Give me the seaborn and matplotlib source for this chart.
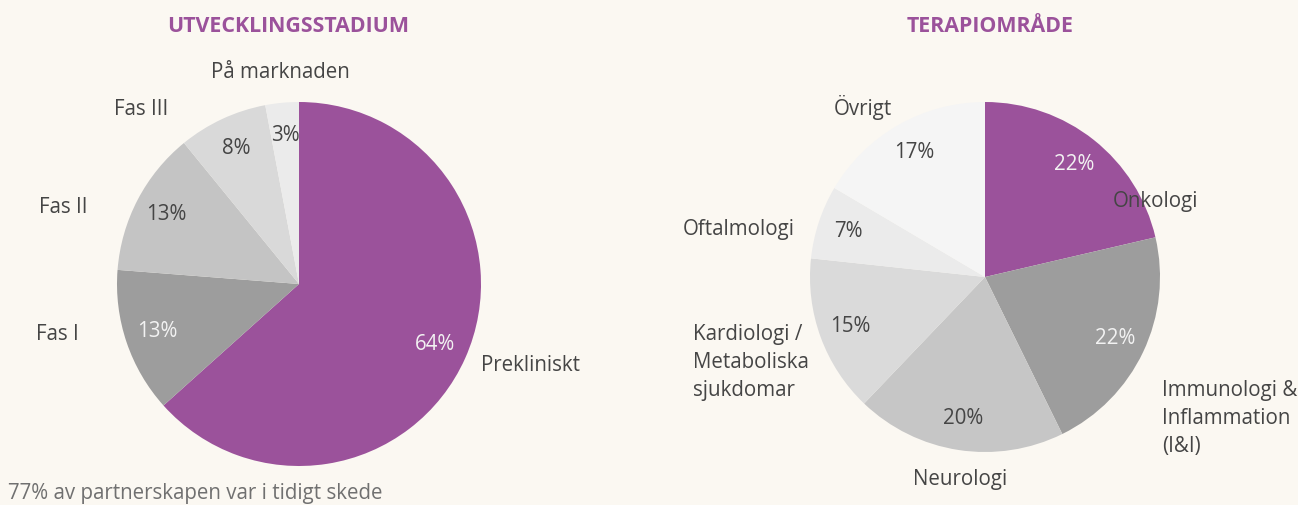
import numpy as np
import seaborn as sns
import matplotlib.pyplot as plt

# data
stage_labels = ['Prekliniskt', 'Fas I', 'Fas II', 'Fas III', 'På marknaden']
stage_values = [64, 13, 13, 8, 3]

area_labels = ['Onkologi', 'Immunologi &\nInflammation\n(I&I)', 'Neurologi',
               'Kardiologi /\nMetaboliska\nsjukdomar', 'Oftalmologi', 'Övrigt']
area_values = [22, 22, 20, 15, 7, 17]

footnote = '77% av partnerskapen var i tidigt skede'

# styling / layout
bg = '#FBF8F2'
purple = '#9B529B'
stage_colors = [purple, '#9D9D9D', '#C4C4C4', '#D9D9D9', '#EBEBEB']
area_colors = [purple, '#9D9D9D', '#C6C6C6', '#DADADA', '#EBEBEB', '#F5F5F5']
stage_pct_colors = ['#F2F2F2', '#F2F2F2', '#454545', '#454545', '#454545']
area_pct_colors = ['#F2F2F2', '#F2F2F2', '#454545', '#454545', '#454545', '#454545']

# label anchor (in pie radius units) and alignment
stage_label_pos = [(1.00, -0.45, 'left'), (-1.21, -0.28, 'right'), (-1.16, 0.42, 'right'),
                   (-0.72, 0.96, 'right'), (-0.10, 1.16, 'center')]
area_label_pos = [(0.73, 0.43, 'left'), (1.01, -0.81, 'left'), (-0.14, -1.16, 'center'),
                  (-1.67, -0.49, 'left'), (-1.09, 0.27, 'right'), (-0.70, 0.97, 'center')]

sns.set_theme(style='white')
plt.rcParams['font.family'] = ['Open Sans', 'DejaVu Sans']
plt.rcParams['font.weight'] = 'normal'

W, H = 1298, 505
fig = plt.figure(figsize=(W / 100, H / 100), dpi=100)
fig.patch.set_facecolor(bg)


def draw_pie(cx, cy, r, values, labels, colors, pct_colors, label_pos):
    ax = fig.add_axes([(cx - r) / W, 1 - (cy + r) / H, 2 * r / W, 2 * r / H])
    ax.set_facecolor(bg)
    wedges, _ = ax.pie(values, colors=colors, startangle=90, counterclock=False,
                       wedgeprops=dict(linewidth=0))
    ax.set_xlim(-1, 1)
    ax.set_ylim(-1, 1)
    ax.axis('off')
    for w, v, c in zip(wedges, values, pct_colors):
        mid = np.deg2rad((w.theta1 + w.theta2) / 2)
        ax.text(0.82 * np.cos(mid), 0.82 * np.sin(mid), f'{v}%', ha='center', va='center',
                fontsize=14.8, color=c)
    for lab, (x, y, ha) in zip(labels, label_pos):
        ax.text(x, y, lab, ha=ha, va='center', multialignment='left', fontsize=14.8,
                color='#454545', linespacing=1.45)
    return ax


draw_pie(299, 284, 182, stage_values, stage_labels, stage_colors, stage_pct_colors, stage_label_pos)
draw_pie(985, 277, 175, area_values, area_labels, area_colors, area_pct_colors, area_label_pos)

fig.text(288 / W, 1 - 27 / H, 'UTVECKLINGSSTADIUM', ha='center', va='center',
         fontsize=15.4, fontweight='bold', color=purple)
fig.text(990 / W, 1 - 27 / H, 'TERAPIOMRÅDE', ha='center', va='center',
         fontsize=15.4, fontweight='bold', color=purple)
fig.text(8 / W, 1 - 493 / H, footnote, ha='left', va='center', fontsize=14.8, color='#707070')

fig.savefig('out.png', dpi=100, facecolor=bg)
